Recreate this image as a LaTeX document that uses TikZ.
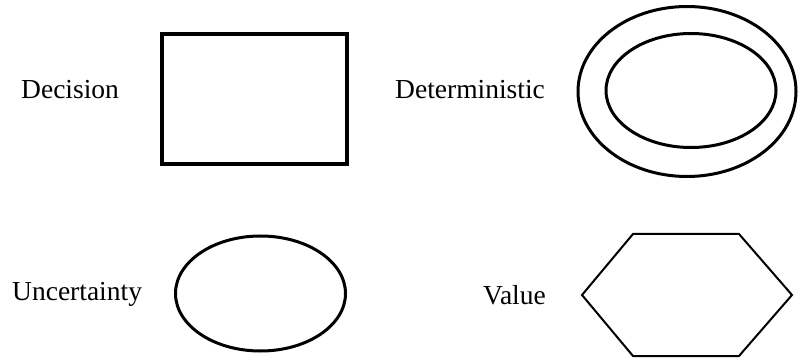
\documentclass[tikz,border=0pt]{standalone}
\usepackage{fontspec}
\setmainfont{Liberation Serif}
\usetikzlibrary{shapes.geometric}
\begin{document}
\begin{tikzpicture}[x=1pt,y=-1pt,
  lbl/.style={anchor=base west,inner sep=0pt,font=\fontsize{27.5}{30}\selectfont},
  boxshape/.style={draw,line width=4pt,rectangle,inner sep=0pt},
  ovalshape/.style={draw,line width=3pt,ellipse,inner sep=0pt},
  hexline/.style={draw,line width=2pt,line join=miter}]
\useasboundingbox (0,0) rectangle (798,358);
\node[lbl] (decl) at (21,99) {Decision};
\node[lbl] (detl) at (395,99) {Deterministic};
\node[lbl] (uncl) at (12,300) {Uncertainty};
\node[lbl] (vall) at (483,305) {Value};
\node[boxshape,minimum width=185pt,minimum height=130pt] (dec) at (254.5,99) {};
\node[ovalshape,minimum width=218pt,minimum height=170pt] (detout) at (687,91.5) {};
\node[ovalshape,minimum width=170pt,minimum height=114pt] (detin) at (691,90.5) {};
\node[ovalshape,minimum width=170pt,minimum height=115pt] (unc) at (260.5,293.5) {};
\coordinate (h1) at (633,234);
\coordinate (h2) at (739,234);
\coordinate (h3) at (792,295);
\coordinate (h4) at (739,356);
\coordinate (h5) at (633,356);
\coordinate (h6) at (582,295);
\path[hexline] (h1) -- (h2) -- (h3) -- (h4) -- (h5) -- (h6) -- cycle;
\end{tikzpicture}
\end{document}
